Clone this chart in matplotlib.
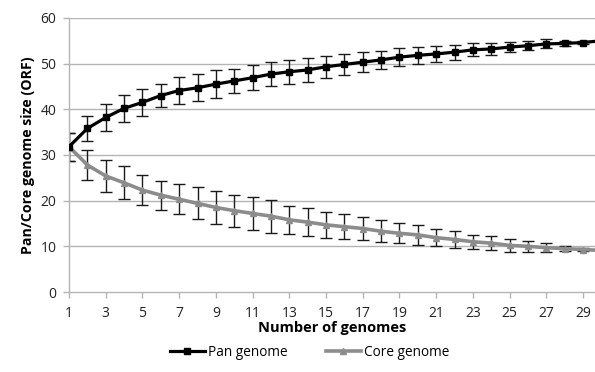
import matplotlib
matplotlib.use("Agg")
import matplotlib.pyplot as plt
import numpy as np

plt.rcParams['font.family'] = ['Open Sans', 'DejaVu Sans']

genomes = list(range(1, 31))

pan_mean = [31.8, 35.8, 38.2, 40.2, 41.5, 43.0, 44.1, 44.7, 45.5, 46.2,
            46.9, 47.7, 48.2, 48.6, 49.3, 49.8, 50.3, 50.8, 51.4, 51.8,
            52.1, 52.5, 53.0, 53.2, 53.6, 53.9, 54.3, 54.4, 54.6, 55.0]
pan_err = [3.1, 2.7, 2.9, 3.0, 3.0, 2.6, 2.85, 3.0, 3.0, 2.7,
           2.7, 2.55, 2.6, 2.55, 2.45, 2.3, 2.15, 2.0, 1.9, 1.8,
           1.75, 1.65, 1.4, 1.3, 1.15, 1.0, 1.0, 0.5, 0.4, 0.0]

core_mean = [31.8, 27.8, 25.4, 23.9, 22.3, 21.2, 20.3, 19.4, 18.5, 17.8,
             17.2, 16.6, 15.8, 15.3, 14.7, 14.3, 13.9, 13.3, 12.85, 12.5,
             11.9, 11.5, 11.0, 10.7, 10.2, 10.0, 9.7, 9.5, 9.3, 9.1]
core_err = [3.1, 3.3, 3.5, 3.6, 3.3, 3.2, 3.3, 3.5, 3.7, 3.5,
            3.6, 3.6, 3.1, 3.0, 2.9, 2.7, 2.6, 2.4, 2.2, 2.2,
            1.8, 1.9, 1.5, 1.6, 1.4, 1.2, 1.05, 0.5, 0.4, 0.0]

x_ticks = list(range(1, 30, 2))
y_ticks = [0, 10, 20, 30, 40, 50, 60]

fig = plt.figure(figsize=(5.95, 3.72), dpi=100)
ax = fig.add_axes([0.116, 0.215, 0.884, 0.737])

grid_col = '#b4b4b4'
for yv in y_ticks[1:]:
    ax.axhline(yv, color=grid_col, lw=1.0, zorder=0)

ax.errorbar(genomes, core_mean, yerr=core_err, fmt='none', ecolor='#1a1a1a',
            elinewidth=1.0, capsize=4.5, capthick=1.0, zorder=2)
ax.errorbar(genomes, pan_mean, yerr=pan_err, fmt='none', ecolor='#1a1a1a',
            elinewidth=1.0, capsize=4.5, capthick=1.0, zorder=2)

ax.plot(genomes, core_mean, color='#8c8c8c', lw=2.6, marker='^', ms=5,
        label='Core genome', zorder=3)
ax.plot(genomes, pan_mean, color='black', lw=2.3, marker='s', ms=4,
        label='Pan genome', zorder=4)

ax.set_xlim(1, 29.65)
ax.set_ylim(0, 60)
ax.set_xticks(x_ticks)
ax.set_yticks(y_ticks)
ax.tick_params(axis='both', labelsize=10, colors='#b4b4b4', labelcolor='#222222',
               length=4, width=1.0, direction='out')
ax.tick_params(axis='x', pad=6)
ax.tick_params(axis='y', pad=5)

for side in ['top', 'right']:
    ax.spines[side].set_visible(False)
for side in ['left', 'bottom']:
    ax.spines[side].set_color(grid_col)
    ax.spines[side].set_linewidth(1.0)

ax.set_xlabel('Number of genomes', fontsize=10.5, fontweight='bold', labelpad=0)
ax.set_ylabel('Pan/Core genome size (ORF)', fontsize=10.2, fontweight='bold', labelpad=4)

handles, labels = ax.get_legend_handles_labels()
fig.legend(handles[::-1], labels[::-1], loc='center', bbox_to_anchor=(0.52, 0.052),
           ncol=2, frameon=False, fontsize=9.8, handlelength=2.6,
           handletextpad=0.2, columnspacing=2.8)

fig.savefig('out.png', dpi=100)
